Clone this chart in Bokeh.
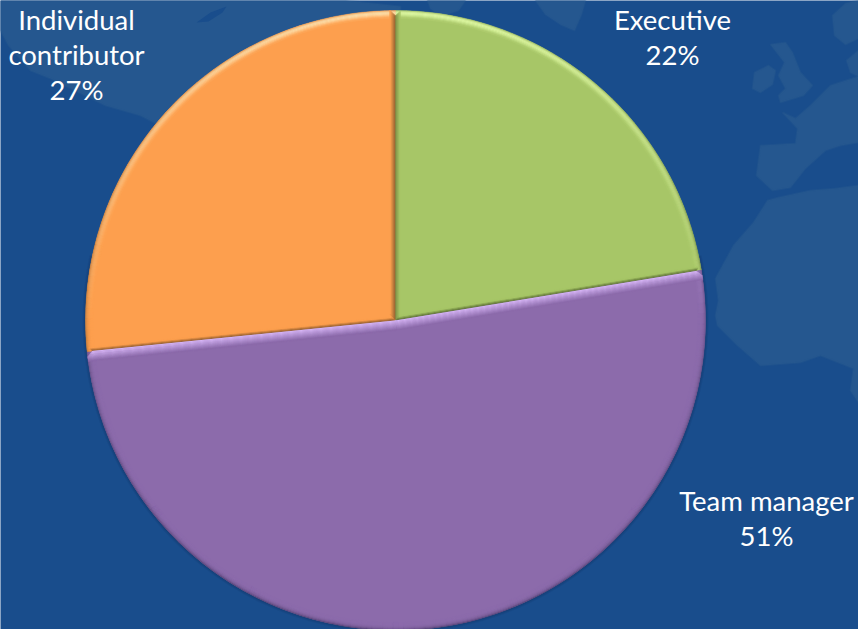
import math
from bokeh.plotting import figure
from bokeh.models import Range1d, ColumnDataSource
from bokeh.core.properties import value
from bokeh.embed import file_html
from bokeh.resources import INLINE

W, H = 858, 629
categories = ["Executive", "Team manager", "Individual contributor"]
shares = [22.4, 51.0, 26.6]
percent_labels = ["22%", "51%", "27%"]
label_lines = [["Executive", "22%"], ["Team manager", "51%"], ["Individual", "contributor", "27%"]]
label_x = [672, 766, 76]
label_y = [18.5, 500, 18.5]
LINE_H = 35
base_colors = ["#a7c667", "#8c6bab", "#fd9f4e"]
light_colors = ["#e2fca6", "#d8b8f8", "#ffe2ae"]
dark_colors = ["#56682f", "#4f3f70", "#8a5a2c"]
OCEAN, LAND = "#194d8c", "#25578f"

CX, CY, R = 395.0, 320.0, 310.0

# pale world map behind the chart (page pixels, y down)
land_far_east = [(0, 0), (345, 0), (400, 6), (400, 60), (300, 90), (165, 128), (140, 115), (105, 105),
                 (50, 78), (30, 70), (8, 45), (0, 30)]
land_okhotsk = [(196, 22), (210, 12), (226, 6), (222, 12), (208, 21)]
land_blob_a = [(427, 0), (465, 0), (458, 10), (440, 16), (430, 8)]
land_blob_b = [(535, 0), (585, 0), (581, 14), (574, 30), (560, 24), (545, 14)]
land_ireland = [(752, 88), (754, 72), (768, 65), (775, 70), (772, 84), (760, 92)]
land_britain = [(770, 44), (785, 42), (792, 52), (800, 72), (812, 85), (803, 95), (780, 102), (778, 95),
                (785, 88), (778, 75), (784, 62)]
land_norway = [(832, 15), (845, 3), (858, 0), (858, 38), (845, 44), (834, 35)]
land_denmark = [(846, 60), (858, 50), (858, 76), (850, 72)]
land_europe = [(858, 76), (830, 85), (810, 105), (795, 118), (782, 112), (797, 128), (795, 143), (760, 145),
               (756, 175), (772, 190), (790, 187), (805, 168), (825, 150), (840, 145), (858, 142)]
land_africa = [(858, 185), (835, 188), (810, 190), (778, 197), (767, 200), (753, 222), (733, 245), (715, 278),
               (718, 300), (715, 315), (717, 325), (737, 345), (760, 365), (800, 362), (820, 355), (853, 368),
               (850, 390), (858, 402)]
land_parts = [land_far_east, land_blob_a, land_blob_b, land_ireland, land_britain, land_norway,
              land_denmark, land_europe, land_africa]


def hex2rgb(c):
    return tuple(int(c[i:i + 2], 16) for i in (1, 3, 5))


def mix(a, b, t):
    t = max(0.0, min(1.0, t))
    ra, rb = hex2rgb(a), hex2rgb(b)
    return "#%02x%02x%02x" % tuple(round(x + (y - x) * t) for x, y in zip(ra, rb))


def fy(y):
    return H - y


p = figure(width=W, height=H, output_backend="svg", toolbar_location=None, min_border=0,
           x_range=Range1d(0, W), y_range=Range1d(0, H), outline_line_color=None,
           background_fill_color=OCEAN, border_fill_color=OCEAN)
p.axis.visible = False
p.grid.visible = False

p.patches([[q[0] for q in part] for part in land_parts],
          [[fy(q[1]) for q in part] for part in land_parts],
          fill_color=LAND, line_color=LAND, line_alpha=0.4, line_width=2)
p.patch([q[0] for q in land_okhotsk], [fy(q[1]) for q in land_okhotsk], fill_color=OCEAN, line_color=None)

# soft outer shadow
for i, a in enumerate([0.28, 0.16, 0.07]):
    p.annular_wedge([CX], [fy(CY)], inner_radius=R + i, outer_radius=R + i + 1,
                    start_angle=math.radians(168), end_angle=math.radians(372),
                    fill_color="#0b1f45", fill_alpha=a, line_color=None)

# angles of the slices, clockwise from the top
total = sum(shares)
edges = [math.pi / 2]
for s in shares:
    edges.append(edges[-1] - 2 * math.pi * s / total)

for i in range(3):
    p.wedge([CX], [fy(CY)], radius=R, start_angle=edges[i + 1], end_angle=edges[i],
            fill_color=base_colors[i], line_color=None)

# bevel round the rim
rim = dict(x=[], y=[], inner=[], outer=[], start=[], end=[], color=[])
light_profile = [0.35, 0.85, 1.0, 0.92, 0.72, 0.48, 0.26, 0.1]
dark_profile = [0.8, 0.45, 0.24, 0.12, 0.05, 0.0, 0.0, 0.0]
STEP = math.radians(2)
for i in range(3):
    a1, a0 = edges[i], edges[i + 1]
    n = max(1, round((a1 - a0) / STEP))
    for k in range(n):
        s = a0 + (a1 - a0) * k / n
        e = a0 + (a1 - a0) * (k + 1) / n
        m = math.sin((s + e) / 2)
        for d in range(8):
            hl = max(0.0, m) ** 0.9 * light_profile[d]
            dk = (0.55 + 0.45 * max(0.0, -m)) * dark_profile[d] * (1 - max(0.0, m) * 0.7)
            col = mix(mix(base_colors[i], light_colors[i], hl), dark_colors[i], dk)
            rim["x"].append(CX)
            rim["y"].append(fy(CY))
            rim["inner"].append(R - d - 1)
            rim["outer"].append(R - d)
            rim["start"].append(s)
            rim["end"].append(e)
            rim["color"].append(col)
p.annular_wedge("x", "y", inner_radius="inner", outer_radius="outer", start_angle="start", end_angle="end",
                fill_color="color", line_color="color", line_width=0.4, source=ColumnDataSource(rim))


def strips(theta, side, start_col, end_col, steps, width, from_apex=False):
    """Parallel strips along the radial edge at angle theta; side=+1 is counter-clockwise of it."""
    ux, uy = math.cos(theta), math.sin(theta)
    nx, ny = -uy * side, ux * side
    xs, ys, cols = [], [], []
    for k in range(steps):
        d0, d1 = k * width, (k + 1) * width
        t = k / max(1, steps - 1)
        lo = 0.0 if from_apex else d1 * 1.05
        hi = math.sqrt(R * R - d1 * d1) - max(0, 6 - d1)
        xs.append([CX + ux * lo + nx * d0, CX + ux * hi + nx * d0, CX + ux * hi + nx * d1, CX + ux * lo + nx * d1])
        ys.append([fy(CY) + uy * lo + ny * d0, fy(CY) + uy * hi + ny * d0, fy(CY) + uy * hi + ny * d1,
                   fy(CY) + uy * lo + ny * d1])
        cols.append(mix(start_col, end_col, t))
    p.patches(xs, ys, fill_color=cols, line_color=cols, line_width=0.3)


# orange/green edge
strips(edges[0], +1, dark_colors[2], base_colors[2], 6, 1.0)
strips(edges[0], -1, "#7d8e44", base_colors[0], 5, 1.0)
# green/purple edge
strips(edges[1], +1, dark_colors[0], base_colors[0], 4, 1.0)
strips(edges[1], -1, light_colors[1], base_colors[1], 10, 1.0, from_apex=True)
# purple/orange edge
strips(edges[2], -1, dark_colors[2], base_colors[2], 4, 1.0)
strips(edges[2], +1, light_colors[1], base_colors[1], 10, 1.0, from_apex=True)

# labels
tx, ty, tt = [], [], []
for lines, lx, ly in zip(label_lines, label_x, label_y):
    for j, line in enumerate(lines):
        tx.append(lx)
        ty.append(fy(ly + j * LINE_H))
        tt.append(line)
p.text(tx, ty, text=tt, text_color="#ffffff", text_font=value("Lato"), text_font_size="27.5px",
       text_align="center", text_baseline="middle")

open("out.html", "w").write(file_html(p, INLINE))
